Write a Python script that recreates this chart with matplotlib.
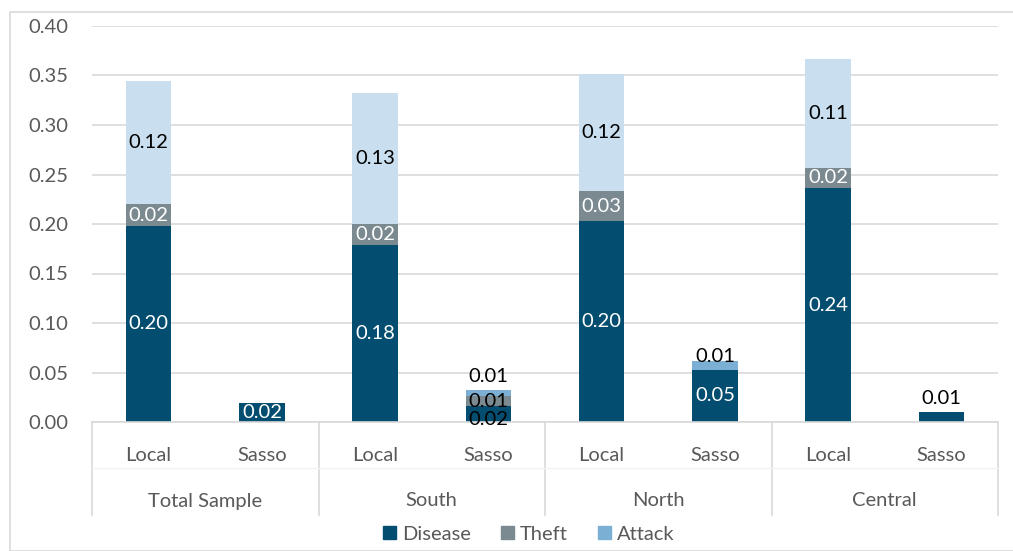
import matplotlib

matplotlib.use("Agg")

import matplotlib.pyplot as plt
from matplotlib.lines import Line2D
from matplotlib.patches import Patch, Rectangle

groups = ["Total Sample", "South", "North", "Central"]
breeds = ["Local", "Sasso"]

# one value per bar: Local/Sasso for each region in order
disease = [0.198, 0.019, 0.179, 0.016, 0.203, 0.053, 0.236, 0.010]
theft = [0.022, 0.0, 0.021, 0.010, 0.030, 0.0, 0.021, 0.0]
attack = [0.124, 0.0, 0.132, 0.006, 0.119, 0.009, 0.110, 0.0]

DISEASE_C = "#034E70"
THEFT_C = "#7A8A90"
ATTACK_C = "#7BAFD4"
ATTACK_LIGHT = "#C9DEEE"
TEXT_C = "#595959"
FS = 14.5

plt.rcParams["font.family"] = ["Lato", "DejaVu Sans"]

fig = plt.figure(figsize=(10.13, 5.51), dpi=100)
W, H = 1013, 551
ax = fig.add_axes([92 / W, 1 - 422 / H, (998 - 92) / W, (422 - 26) / H])

# outer frame
fig.patches.append(Rectangle((10 / W, 0), 1.0, 1 - 12 / H, transform=fig.transFigure,
                             fill=False, edgecolor="#D9D9D9", linewidth=1.2))

n = len(disease)
xs = [i + 0.5 for i in range(n)]
width = 0.4
attack_colors = [ATTACK_LIGHT if i % 2 == 0 else ATTACK_C for i in range(n)]

ax.bar(xs, disease, width, color=DISEASE_C, zorder=2)
bottom_t = disease
ax.bar(xs, theft, width, bottom=bottom_t, color=THEFT_C, zorder=2)
bottom_a = [d + t for d, t in zip(disease, theft)]
ax.bar(xs, attack, width, bottom=bottom_a, color=attack_colors, zorder=2)

# label offsets (points) for the small stacked segments
offsets = {("disease", 3): -4, ("attack", 3): 12, ("attack", 5): 6, ("disease", 7): 13}
dark_labels = {("disease", 3), ("theft", 3), ("disease", 7)}

for name, vals, bots, col in [("disease", disease, [0] * n, "white"),
                              ("theft", theft, bottom_t, "white"),
                              ("attack", attack, bottom_a, "black")]:
    for i, (v, b) in enumerate(zip(vals, bots)):
        if v <= 0:
            continue
        c = "black" if (name, i) in dark_labels else col
        ax.annotate(f"{v:.2f}", (xs[i], b + v / 2), xytext=(0, offsets.get((name, i), 0)),
                    textcoords="offset points", ha="center", va="center",
                    fontsize=FS, color=c, zorder=3)

ax.set_xlim(0, n)
ax.set_ylim(0, 0.40)
ax.set_yticks([i * 0.05 for i in range(9)])
ax.set_yticklabels([f"{i * 0.05:.2f}" for i in range(9)])
ax.tick_params(axis="y", length=0, labelsize=FS, labelcolor=TEXT_C, pad=17)
ax.grid(axis="y", color="#D9D9D9", linewidth=1.2, zorder=0)
ax.set_axisbelow(True)
for s in ax.spines.values():
    s.set_visible(False)

ax.set_xticks(xs)
ax.set_xticklabels(breeds * len(groups))
ax.tick_params(axis="x", length=0, labelsize=FS, labelcolor=TEXT_C, pad=18)

# category axis: baseline, separators and group names
tr = ax.get_xaxis_transform()
ax.add_line(Line2D([0, n], [0, 0], transform=tr, color="#D9D9D9", linewidth=1.2, clip_on=False))
y_low = -(515 - 422) / (422 - 26)
y_mid = -(468 - 422) / (422 - 26)
for k in range(len(groups) + 1):
    ax.add_line(Line2D([2 * k, 2 * k], [0, y_low], transform=tr, color="#D9D9D9",
                       linewidth=1.2, clip_on=False))
ax.add_line(Line2D([0, n], [y_mid, y_mid], transform=tr, color="#F2F2F2", linewidth=1.0,
                   clip_on=False))
for k, g in enumerate(groups):
    ax.text(2 * k + 1, -(501 - 422) / (422 - 26), g, transform=tr, ha="center", va="center",
            fontsize=FS, color=TEXT_C)

handles = [Patch(color=DISEASE_C), Patch(color=THEFT_C), Patch(color=ATTACK_C)]
fig.legend(handles, ["Disease", "Theft", "Attack"], loc="center", bbox_to_anchor=(0.522, 1 - 534 / H),
           ncol=3, frameon=False, fontsize=FS, labelcolor=TEXT_C, handlelength=0.65,
           handleheight=0.65, handletextpad=0.3, columnspacing=1.5)

fig.savefig("out.png", dpi=100)
